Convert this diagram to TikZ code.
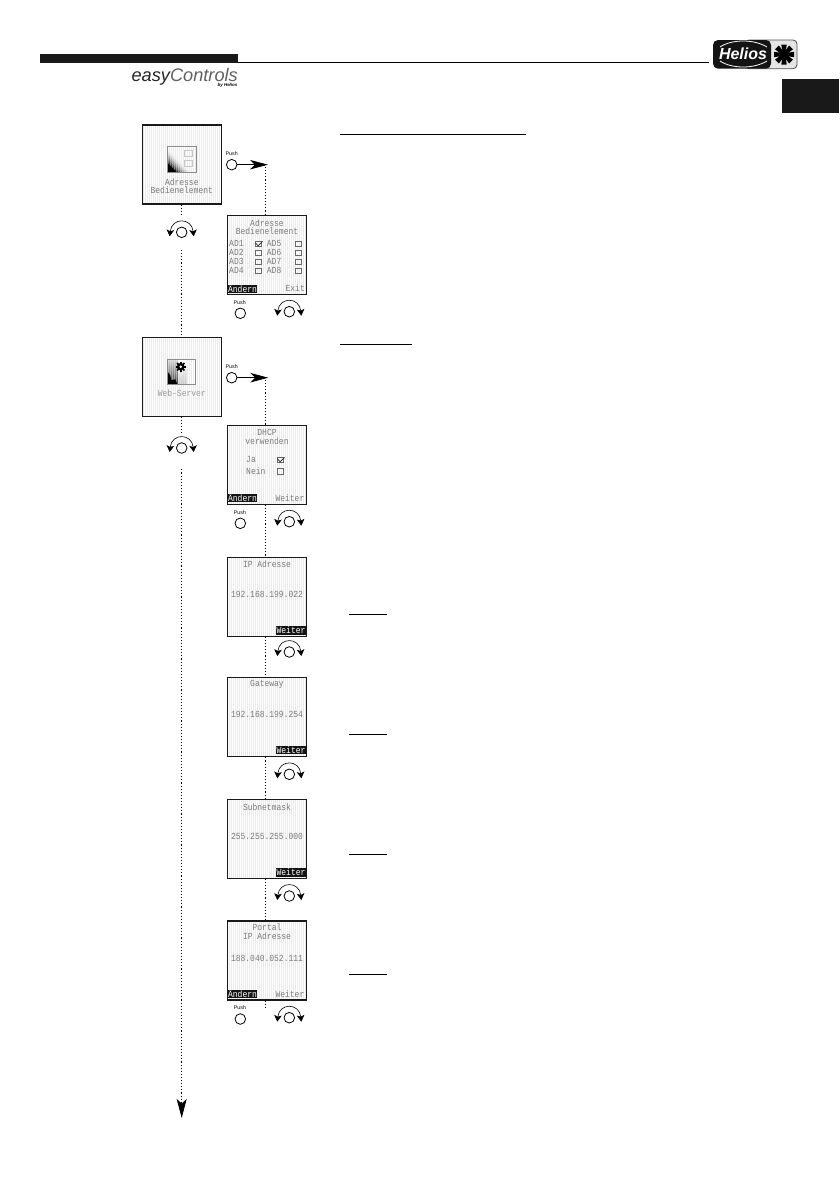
\documentclass[tikz,border=0pt]{standalone}
\usepackage{fontspec}
\newfontfamily\lcdfont[FakeStretch=0.86]{Liberation Mono}
\newfontfamily\logofont{Liberation Sans}
\usetikzlibrary{arrows.meta}
\begin{document}
\begin{tikzpicture}[x=1pt,y=-1pt,
  screen/.style={draw=black!90,line width=1.1pt,fill=white,minimum size=79pt,inner sep=0pt,
    path picture={\foreach \h in {-40,-38,...,40}
      \draw[black!8,line width=.7pt] ([xshift=\h pt]path picture bounding box.north) -- ([xshift=\h pt]path picture bounding box.south);}},
  lcd/.style={text=black!52,font=\lcdfont\fontsize{9.3}{9}\selectfont,inner sep=0pt},
  softkey/.style={fill=black!92,text=white,font=\lcdfont\fontsize{9.3}{9}\selectfont,inner sep=0pt,minimum height=8.4pt},
  chk/.style={draw=black!60,line width=.5pt,minimum size=5.5pt,inner sep=0pt},
  knob/.style={circle,draw=black,line width=.8pt,minimum size=10.6pt,inner sep=0pt},
  pushtxt/.style={font=\logofont\fontsize{5.3}{5.3}\selectfont,inner sep=0pt},
  flow/.style={line width=.8pt,dash pattern=on 1.1pt off 2pt},
  pusharrow/.style={line width=.8pt,-{Stealth[length=18pt,width=9.5pt,inset=5pt]}},
  rotknob/.pic={
    \node[knob] (-c) at (0,0) {};
    \draw[line width=.6pt,{Stealth[length=6.5pt,width=7.5pt,inset=1.5pt]}-{Stealth[length=6.5pt,width=7.5pt,inset=1.5pt]}]
      (-12,4) .. controls (-10,-15) and (10,-15) .. (12,4);
  }]
  \useasboundingbox (0,0) rectangle (839,1191);

  % Header bar, tab and logos
  \fill[black!90] (40,54) rectangle (238,63);
  \draw[line width=1pt] (238,62.5) -- (709,62.5);
  \fill[black!90] (782,78.7) rectangle (839,112.7);
  \node[anchor=base east,inner sep=0pt,font=\logofont\itshape\fontsize{18.2}{18}\selectfont] (easy) at (238,81.5) {\textcolor{black!85}{easy}\textcolor{black!62}{Controls}};
  \node[anchor=east,inner sep=0pt,font=\logofont\bfseries\itshape\fontsize{4.4}{4.4}\selectfont] (byhelios) at (237.5,85.5) {by Helios};
  \fill[black!10,draw=black!70,line width=.8pt,rounded corners=4pt] (745,40) -- (797,40) -- (797,68.7) -- (745,68.7) -- cycle;
  \fill[black!92,rounded corners=5pt] (713,40) -- (771,40) -- (771,68.7) -- (713,68.7) -- cycle;
  \node[text=white,inner sep=0pt,font=\logofont\bfseries\itshape\fontsize{16}{16}\selectfont] (helios) at (743,54) {Helios};
  \draw[white,line width=.8pt] (720,47) .. controls (732,39) and (754,39) .. (767,47);
  \draw[white,line width=.8pt] (720,61) .. controls (732,69) and (754,69) .. (767,61);
  \foreach \a in {0,45,...,315} {
    \fill[black,rotate around={\a:(784,54.5)}] (782.7,54.5) -- (781.3,44.5) -- (786.7,44.5) -- (785.3,54.5) -- cycle;
  }
  \fill[black] (784,54.5) circle (5pt);

  % Underlines of the text column
  \draw[line width=.9pt] (340,134.3) -- (526,134.3);
  \draw[line width=.9pt] (340,344) -- (412,344);
  \draw[line width=.9pt] (349.3,614.3) -- (386.7,614.3);
  \draw[line width=.9pt] (349.3,734) -- (386.7,734);
  \draw[line width=.9pt] (349.3,854) -- (386.7,854);
  \draw[line width=.9pt] (349.3,974) -- (386.7,974);

  % Screen: Adresse Bedienelement (menu)
  \begin{scope}[shift={(142.3,125)}]
    \node[screen] (scrA) at (39.5,39.5) {};
    \foreach \s/\c in {25/6,22/12,20/20,18/32,16/46,14/62,12/80} {
      \fill[black!\c] (25,47.7) -- (25,47.7-\s) -- (25+\s,47.7) -- cycle;
    }
    \foreach \h in {26,28,...,52} \draw[white,opacity=.35,line width=.7pt] (\h,21.7) -- (\h,47.7);
    \fill[black] (25,47.7) -- (25,37.7) -- (35,47.7) -- cycle;
    \draw[black!45,line width=.5pt] (25,21.7) rectangle (53.7,47.7);
    \draw[black!22,line width=.5pt] (42,25) rectangle (50,31);
    \draw[black!22,line width=.5pt] (42,35) rectangle (50,41);
    \node[lcd] (scrAa) at (39.5,56.7) {Adresse};
    \node[lcd] (scrAb) at (39.5,64.7) {Bedienelement};
  \end{scope}

  % Screen: Adresse Bedienelement (AD1 to AD8)
  \begin{scope}[shift={(227.5,215.3)}]
    \node[screen] (scrB) at (39.5,39.5) {};
    \node[lcd] (scrBa) at (39.5,8) {Adresse};
    \node[lcd] (scrBb) at (39.5,16) {Bedienelement};
    \foreach \y/\i/\j in {28.4/1/5,37.4/2/6,46.4/3/7,55.4/4/8} {
      \node[lcd,anchor=west] (adl\i) at (1.5,\y) {AD\i};
      \node[chk] (chk\i) at (30.8,\y) {};
      \node[lcd,anchor=west] (adl\j) at (39.2,\y) {AD\j};
      \node[chk] (chk\j) at (70.5,\y) {};
    }
    \draw[black!85,line width=.7pt] (28,27.5) -- (30.5,30.5) -- (35,26);
    \node[softkey,minimum width=29pt] (keyBa) at (15,73.4) {Ändern};
    \node[lcd,anchor=east] (keyBb) at (77.5,73) {Exit};
  \end{scope}

  % Screen: Web-Server (menu)
  \begin{scope}[shift={(142.3,337.3)}]
    \node[screen] (scrC) at (39.5,39.5) {};
    \shade[top color=black!15,bottom color=black!75] (25,21.7) rectangle (36,47);
    \shade[top color=white,bottom color=black!22] (36,21.7) rectangle (44,47);
    \foreach \h in {26,28,...,52} \draw[white,opacity=.35,line width=.7pt] (\h,21.7) -- (\h,47);
    \fill[black] (25,47) -- (25,34) -- (28,38) -- (29,43) -- (33,42) -- (35,47) -- cycle;
    \draw[black!45,line width=.5pt] (25,21.7) rectangle (53,47);
    \foreach \a in {0,45,...,315} \draw[black,line width=1.6pt] (38.4,29.4) -- +(\a:5.2);
    \fill[black] (38.4,29.4) circle (3.8pt);
    \fill[white] (38.4,29.4) circle (1.4pt);
    \node[lcd,text=black!40] (scrCa) at (39.5,56) {Web-Server};
  \end{scope}

  % Screen: DHCP verwenden
  \begin{scope}[shift={(227.5,425.3)}]
    \node[screen] (scrD) at (39.5,39.5) {};
    \node[lcd] (scrDa) at (39.5,7) {DHCP};
    \node[lcd] (scrDb) at (39.5,16) {verwenden};
    \node[lcd,anchor=west] (scrDc) at (18.5,34.4) {Ja};
    \node[chk] (chkJa) at (52.5,34.4) {};
    \node[lcd,anchor=west] (scrDd) at (18.5,46) {Nein};
    \node[chk] (chkNein) at (52.5,46) {};
    \draw[black!85,line width=.7pt] (50,33.5) -- (52.5,36.5) -- (57,32);
    \node[softkey,minimum width=29pt] (keyDa) at (15,72.7) {Ändern};
    \node[lcd,anchor=east] (keyDb) at (77,72.7) {Weiter};
  \end{scope}

  % Screen: IP Adresse
  \begin{scope}[shift={(227.5,557.3)}]
    \node[screen] (scrE) at (39.5,39.5) {};
    \node[lcd] (scrEa) at (39.5,6.7) {IP Adresse};
    \node[lcd] (scrEb) at (39.5,37) {192.168.199.022};
    \node[softkey,minimum width=30pt] (keyE) at (63.5,73) {Weiter};
  \end{scope}

  % Screen: Gateway
  \begin{scope}[shift={(227.5,677.8)}]
    \node[screen] (scrF) at (39.5,39.5) {};
    \node[lcd] (scrFa) at (39.5,6.5) {Gateway};
    \node[lcd] (scrFb) at (39.5,36.9) {192.168.199.254};
    \node[softkey,minimum width=30pt] (keyF) at (63.5,72.3) {Weiter};
  \end{scope}

  % Screen: Subnetmask
  \begin{scope}[shift={(227.5,799.3)}]
    \node[screen] (scrG) at (39.5,39.5) {};
    \node[lcd] (scrGa) at (39.5,7.4) {Subnetmask};
    \node[lcd] (scrGb) at (39.5,37.4) {255.255.255.000};
    \node[softkey,minimum width=30pt] (keyG) at (63.5,73.2) {Weiter};
  \end{scope}

  % Screen: Portal IP Adresse
  \begin{scope}[shift={(227.5,921)}]
    \node[screen] (scrH) at (39.5,39.5) {};
    \node[lcd] (scrHa) at (39.5,6.3) {Portal};
    \node[lcd] (scrHb) at (39.5,15.3) {IP Adresse};
    \node[lcd] (scrHc) at (39.5,37) {188.040.052.111};
    \node[softkey,minimum width=29pt] (keyHa) at (15,73) {Ändern};
    \node[lcd,anchor=east] (keyHb) at (77,73) {Weiter};
  \end{scope}

  % Rotary knobs
  \pic (rotA) at (181.7,232.3) {rotknob};
  \pic (rotB) at (289.3,311.7) {rotknob};
  \pic (rotC) at (181.7,448) {rotknob};
  \pic (rotD) at (289.3,521.7) {rotknob};
  \pic (rotE) at (289.3,652) {rotknob};
  \pic (rotF) at (289.3,774.3) {rotknob};
  \pic (rotG) at (289.3,896) {rotknob};
  \pic (rotH) at (289.3,1017.7) {rotknob};

  % Push buttons
  \node[knob] (pushA) at (231.7,164.7) {};
  \node[pushtxt] (pushAt) at (231.7,154) {Push};
  \node[knob] (pushB) at (240.3,313.3) {};
  \node[pushtxt] (pushBt) at (239.7,302.7) {Push};
  \node[knob] (pushC) at (231.7,377.7) {};
  \node[pushtxt] (pushCt) at (231.7,366.7) {Push};
  \node[knob] (pushD) at (240.3,523.3) {};
  \node[pushtxt] (pushDt) at (240,512.7) {Push};
  \node[knob] (pushH) at (240.3,1019) {};
  \node[pushtxt] (pushHt) at (240,1008) {Push};

  % Arrows from the push buttons
  \coordinate (tipA) at (268,164.7);
  \coordinate (tipC) at (268.3,377.7);
  \draw[pusharrow] (pushA) -- (tipA);
  \draw[pusharrow] (pushC) -- (tipC);

  % Dotted flow, main column
  \coordinate (gapA) at (181.7,216.7);
  \coordinate (gapB) at (181.7,250);
  \coordinate (gapC) at (181.7,433);
  \coordinate (gapD) at (181.7,469.3);
  \coordinate (endflow) at (181.7,1118);
  \draw[flow] (scrA.south -| gapA) -- (gapA);
  \draw[flow] (gapB) -- (scrC.north -| gapB);
  \draw[flow] (scrC.south -| gapC) -- (gapC);
  \draw[flow,-{Stealth[length=19pt,width=10pt,inset=4.5pt]}] (gapD) -- (endflow);

  % Dotted flow, sub menu column
  \coordinate (dropA) at (265.3,167);
  \coordinate (dropC) at (265.3,380);
  \coordinate (dropH) at (265.3,1008);
  \draw[flow] (dropA) -- (scrB.north -| dropA);
  \draw[flow] (dropC) -- (scrD.north -| dropC);
  \draw[flow] (scrD.south -| dropC) -- (scrE.north -| dropC);
  \draw[flow] (scrE.south -| dropC) -- (scrF.north -| dropC);
  \draw[flow] (scrF.south -| dropC) -- (scrG.north -| dropC);
  \draw[flow] (scrG.south -| dropC) -- (scrH.north -| dropC);
  \draw[flow] (scrH.south -| dropC) -- (dropH);
\end{tikzpicture}
\end{document}
